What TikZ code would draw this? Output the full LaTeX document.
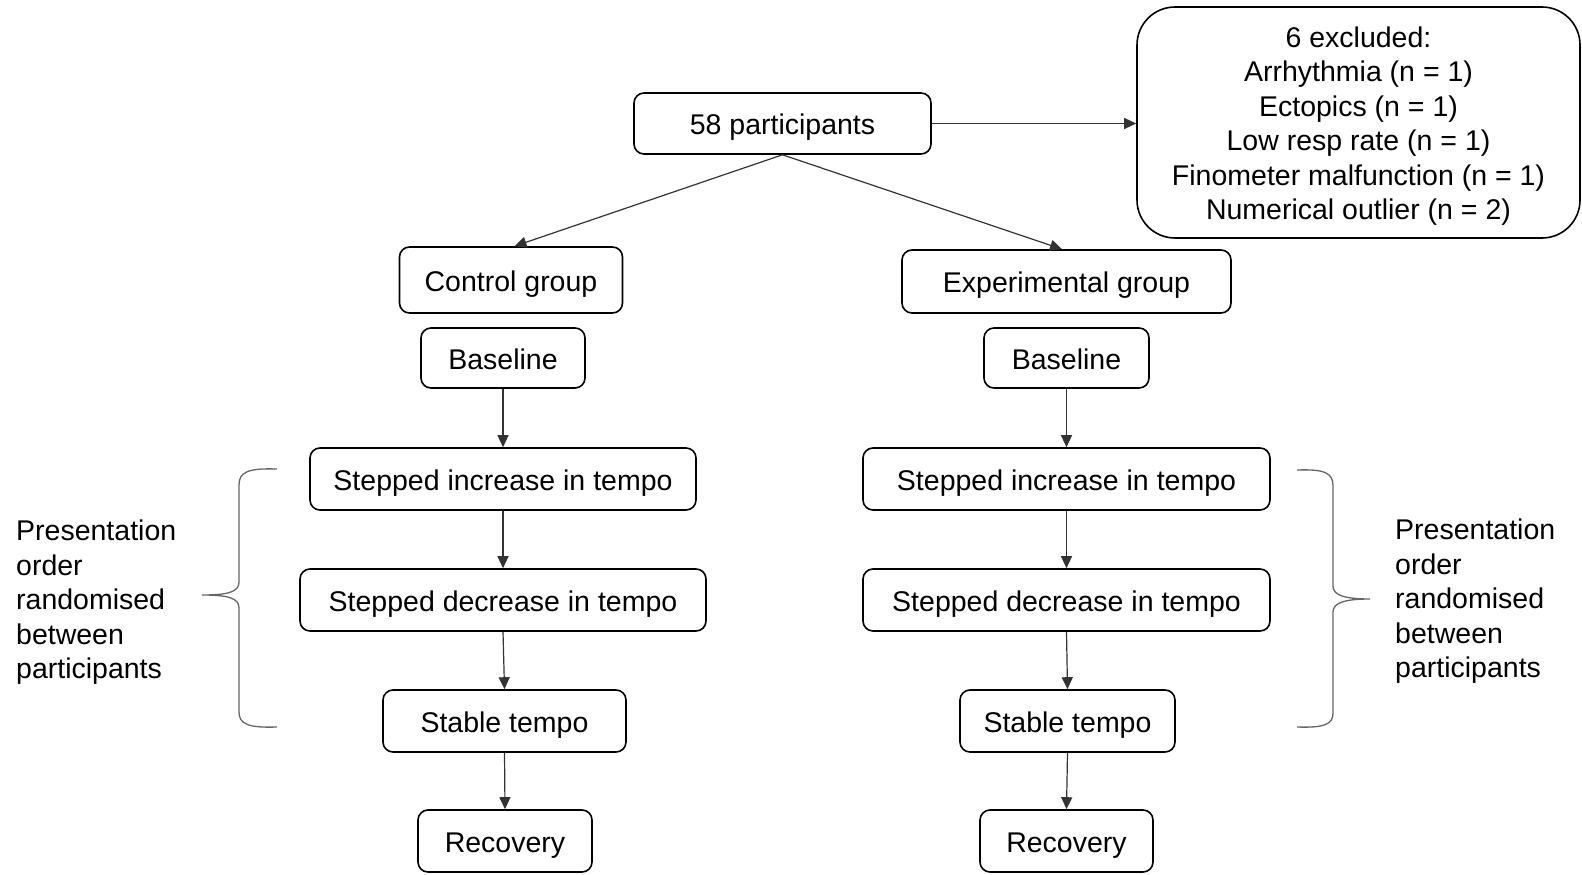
\documentclass[tikz,border=0pt]{standalone}
\usepackage{fontspec}
\setmainfont{Liberation Sans}
\usetikzlibrary{arrows.meta}
\newcommand{\fsz}{\fontsize{28.5}{34.5}\selectfont}
\begin{document}
\begin{tikzpicture}[x=1pt,y=-1pt,
  box/.style={draw, line width=1.6pt, rounded corners=10pt, inner sep=0pt,
    font=\fsz, text height=26pt, text depth=4pt},
  arr/.style={draw=black!80, line width=1.2pt, -{Triangle[length=12pt,width=11pt]}},
  bracep/.style={draw=black!60, line width=1.3pt},
  side/.style={font=\fsz, align=left, inner sep=0pt}]
\useasboundingbox (0,0) rectangle (1582,875);

\node[box, minimum width=297pt, minimum height=61pt] (p) at (782.5,123.5) {58 participants};
\node[box, rounded corners=38pt, minimum width=443pt, minimum height=231pt] (ex) at (1358.5,122.5) {};
\node[font=\fsz, align=center, inner sep=0pt] (exl) at ([yshift=-3.5pt]ex.center)
  {6 excluded:\\Arrhythmia (n = 1)\\Ectopics (n = 1)\\Low resp rate (n = 1)\\Finometer malfunction (n = 1)\\Numerical outlier (n = 2)};

\node[box, minimum width=223pt, minimum height=66pt] (cg) at (511,280) {Control group};
\node[box, minimum width=329pt, minimum height=63pt] (eg) at (1066.5,281.5) {Experimental group};

\node[box, minimum width=164pt, minimum height=60pt] (bl) at (503,358) {Baseline};
\node[box, minimum width=165pt, minimum height=60pt] (br) at (1066.5,358) {Baseline};

\node[box, minimum width=386pt, minimum height=62pt] (il) at (503,479) {Stepped increase in tempo};
\node[box, minimum width=407pt, minimum height=62pt] (ir) at (1066.5,479) {Stepped increase in tempo};

\node[box, minimum width=406pt, minimum height=62pt] (dl) at (503,600) {Stepped decrease in tempo};
\node[box, minimum width=407pt, minimum height=62pt] (dr) at (1066.5,600) {Stepped decrease in tempo};

\node[box, minimum width=243pt, minimum height=62pt] (sl) at (504.5,721) {Stable tempo};
\node[box, minimum width=215pt, minimum height=62pt] (sr) at (1067.5,721) {Stable tempo};

\node[box, minimum width=174pt, minimum height=62pt] (rl) at (505,841) {Recovery};
\node[box, minimum width=173pt, minimum height=62pt] (rr) at (1066.5,841) {Recovery};

\node[side, anchor=west] (tl) at (16,602.5) {Presentation\\order\\randomised\\between\\participants};
\node[side, anchor=west] (tr) at (1395,601.5) {Presentation\\order\\randomised\\between\\participants};

% connectors
\draw[arr] (p.east) -- (p.east -| ex.west);
\draw[arr] (p.south) -- ([xshift=3.5pt]cg.north);
\draw[arr] (p.south) -- ([xshift=-4.5pt]eg.north);
\draw[arr] (bl.south) -- (il.north);
\draw[arr] (il.south) -- (dl.north);
\draw[arr] (dl.south) -- (sl.north);
\draw[arr] (sl.south) -- (rl.north);
\draw[arr] (br.south) -- (ir.north);
\draw[arr] (ir.south) -- (dr.north);
\draw[arr] (dr.south) -- (sr.north);
\draw[arr] (sr.south) -- (rr.north);

% braces
\draw[bracep] (277,469) .. controls (248,468) and (239,472) .. (239,485)
  -- (239,582) .. controls (239,592) and (228,595) .. (202,595)
  .. controls (228,595) and (239,598) .. (239,608)
  -- (239,712) .. controls (239,724) and (248,728) .. (277,727);
\draw[bracep] (1297,470) .. controls (1325,469) and (1333,473) .. (1333,486)
  -- (1333,586) .. controls (1333,595) and (1344,599) .. (1370,599)
  .. controls (1344,599) and (1333,603) .. (1333,612)
  -- (1333,713) .. controls (1333,724) and (1325,728) .. (1297,727);
\end{tikzpicture}
\end{document}
